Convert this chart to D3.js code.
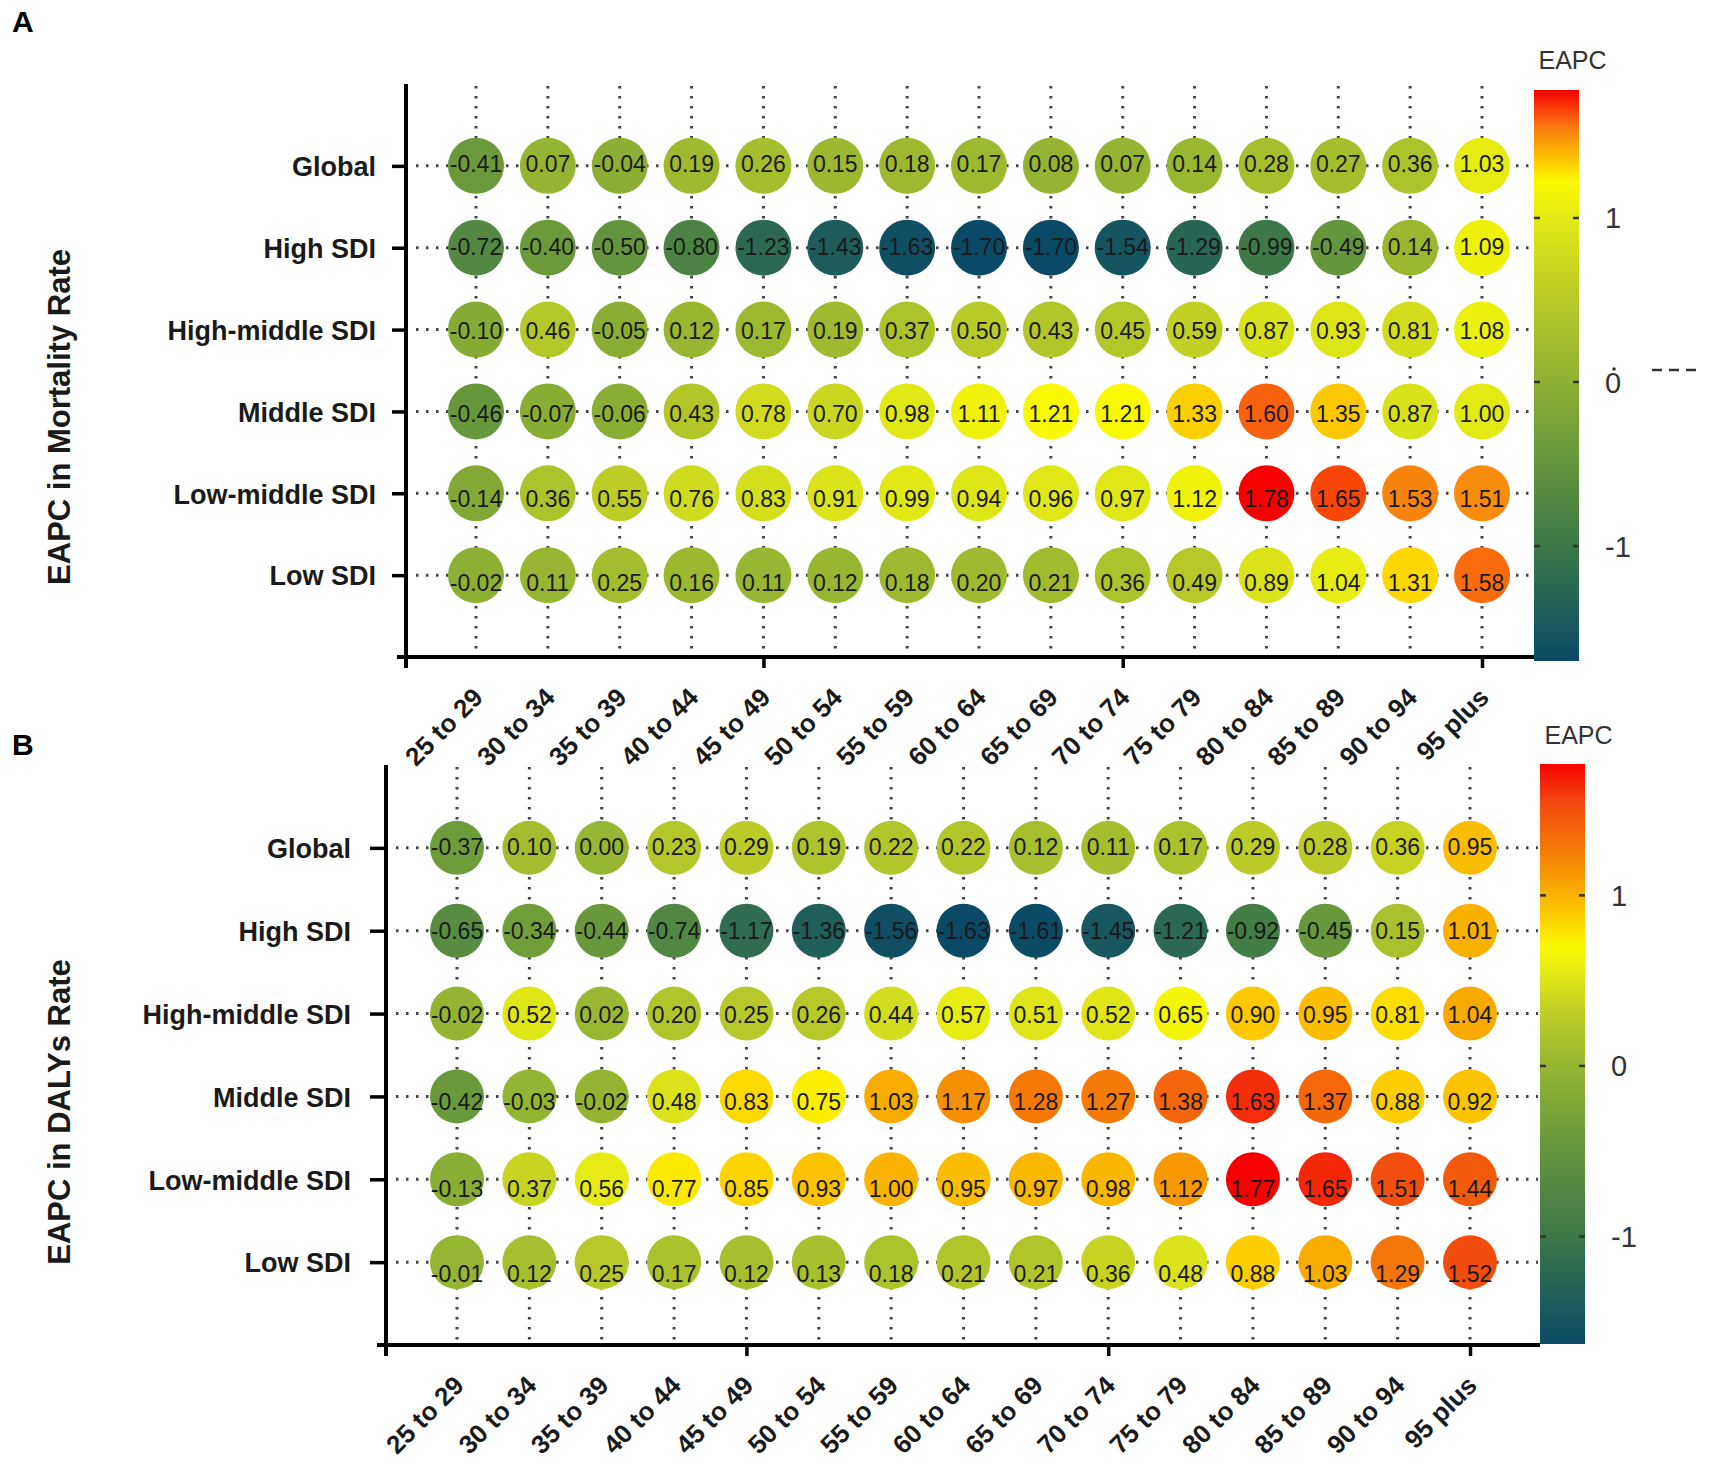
<!DOCTYPE html>
<html>
<head>
<meta charset="utf-8">
<script src="https://cdn.jsdelivr.net/npm/d3@7"></script>
<style>
  body { margin: 0; background: #fff; }
  text { font-family: "Liberation Sans", Arial, sans-serif; }
</style>
</head>
<body>
<svg id="chart"></svg>
<script>
// age groups (x) and SDI regions (y)
var ageGroups = ["25 to 29", "30 to 34", "35 to 39", "40 to 44", "45 to 49", "50 to 54", "55 to 59",
  "60 to 64", "65 to 69", "70 to 74", "75 to 79", "80 to 84", "85 to 89", "90 to 94", "95 plus"];
var regions = ["Global", "High SDI", "High-middle SDI", "Middle SDI", "Low-middle SDI", "Low SDI"];

// panel A: EAPC in mortality rate, one row per region
var mortalityEAPC = [
  [-0.41, 0.07, -0.04, 0.19, 0.26, 0.15, 0.18, 0.17, 0.08, 0.07, 0.14, 0.28, 0.27, 0.36, 1.03],
  [-0.72, -0.40, -0.50, -0.80, -1.23, -1.43, -1.63, -1.70, -1.70, -1.54, -1.29, -0.99, -0.49, 0.14, 1.09],
  [-0.10, 0.46, -0.05, 0.12, 0.17, 0.19, 0.37, 0.50, 0.43, 0.45, 0.59, 0.87, 0.93, 0.81, 1.08],
  [-0.46, -0.07, -0.06, 0.43, 0.78, 0.70, 0.98, 1.11, 1.21, 1.21, 1.33, 1.60, 1.35, 0.87, 1.00],
  [-0.14, 0.36, 0.55, 0.76, 0.83, 0.91, 0.99, 0.94, 0.96, 0.97, 1.12, 1.78, 1.65, 1.53, 1.51],
  [-0.02, 0.11, 0.25, 0.16, 0.11, 0.12, 0.18, 0.20, 0.21, 0.36, 0.49, 0.89, 1.04, 1.31, 1.58]
];

// panel B: EAPC in DALYs rate
var dalysEAPC = [
  [-0.37, 0.10, 0.00, 0.23, 0.29, 0.19, 0.22, 0.22, 0.12, 0.11, 0.17, 0.29, 0.28, 0.36, 0.95],
  [-0.65, -0.34, -0.44, -0.74, -1.17, -1.36, -1.56, -1.63, -1.61, -1.45, -1.21, -0.92, -0.45, 0.15, 1.01],
  [-0.02, 0.52, 0.02, 0.20, 0.25, 0.26, 0.44, 0.57, 0.51, 0.52, 0.65, 0.90, 0.95, 0.81, 1.04],
  [-0.42, -0.03, -0.02, 0.48, 0.83, 0.75, 1.03, 1.17, 1.28, 1.27, 1.38, 1.63, 1.37, 0.88, 0.92],
  [-0.13, 0.37, 0.56, 0.77, 0.85, 0.93, 1.00, 0.95, 0.97, 0.98, 1.12, 1.77, 1.65, 1.51, 1.44],
  [-0.01, 0.12, 0.25, 0.17, 0.12, 0.13, 0.18, 0.21, 0.21, 0.36, 0.48, 0.88, 1.03, 1.29, 1.52]
];

var legendTicks = [-1, 0, 1];
var majorTicks = ["45 to 49", "70 to 74", "95 plus"];

// colour ramps (value, colour)
var rampA = [[-1.70, "#0a4a66"], [-1.0, "#3c7848"], [-0.4, "#6c9a3b"], [0, "#8fb033"], [0.5, "#b8ca28"],
  [1.0, "#e2ea14"], [1.22, "#fcfa00"], [1.36, "#fcc400"], [1.55, "#f87c10"], [1.78, "#f80000"]];
var rampB = [[-1.63, "#0a4a66"], [-1.0, "#3c7848"], [-0.4, "#6c9a3b"], [0, "#97b632"], [0.3, "#bccc28"],
  [0.55, "#e4ea14"], [0.70, "#fcfa00"], [0.90, "#fcc800"], [1.05, "#f8a800"], [1.30, "#f57408"],
  [1.55, "#f24810"], [1.77, "#f80000"]];

var svg = d3.select("#chart").attr("width", 1713).attr("height", 1464);

function panel(p) {
  var g = svg.append("g");
  var x = d3.scalePoint().domain(ageGroups).range([p.x0, p.x1]);
  var y = d3.scalePoint().domain(regions).range([p.top, p.bottom]).padding(1);
  var color = d3.scaleLinear()
      .domain(p.ramp.map(function(d) { return d[0]; }))
      .range(p.ramp.map(function(d) { return d[1]; }))
      .clamp(true);

  // dotted guide lines
  g.append("g").selectAll("line").data(ageGroups).join("line")
      .attr("x1", function(d) { return x(d); }).attr("x2", function(d) { return x(d); })
      .attr("y1", p.top + 2).attr("y2", p.bottom)
      .attr("stroke", "#444").attr("stroke-width", 3).attr("stroke-dasharray", "2.5 7.5");
  g.append("g").selectAll("line").data(regions).join("line")
      .attr("x1", p.axisX + 10).attr("x2", p.barX - 2)
      .attr("y1", function(d) { return y(d); }).attr("y2", function(d) { return y(d); })
      .attr("stroke", "#444").attr("stroke-width", 3).attr("stroke-dasharray", "2.5 7.5");

  // bubbles
  var cells = [];
  p.values.forEach(function(row, i) {
    row.forEach(function(v, j) { cells.push({ region: regions[i], age: ageGroups[j], v: v, i: i }); });
  });
  g.append("g").selectAll("circle").data(cells).join("circle")
      .attr("cx", function(d) { return x(d.age); })
      .attr("cy", function(d) { return y(d.region); })
      .attr("r", p.r)
      .attr("fill", function(d) { return color(d.v); });
  g.append("g").selectAll("text").data(cells).join("text")
      .attr("x", function(d) { return x(d.age); })
      .attr("y", function(d) { return y(d.region) + p.nudge[d.i]; })
      .attr("dy", "0.36em")
      .attr("text-anchor", "middle")
      .style("font-size", "23px")
      .attr("fill", "#1a1a1a")
      .text(function(d) { return d.v.toFixed(2); });

  // axes
  var yAxis = g.append("g").attr("transform", "translate(" + p.axisX + ",0)")
      .call(d3.axisLeft(y).tickSize(p.tickLen).tickPadding(p.tickPad));
  yAxis.select(".domain").remove();
  yAxis.selectAll("line").attr("stroke", "#000").attr("stroke-width", 3.5);
  yAxis.selectAll("text").style("font-size", "27px").style("font-weight", "bold")
      .attr("fill", "#1a1a1a").attr("dy", "0.36em");

  var xMajor = g.append("g").attr("transform", "translate(0," + p.bottom + ")")
      .call(d3.axisBottom(x).tickValues(majorTicks).tickSize(11).tickFormat(""));
  xMajor.select(".domain").remove();
  xMajor.selectAll("line").attr("stroke", "#000").attr("stroke-width", 3.5);

  var xLabels = g.append("g").attr("transform", "translate(0," + p.bottom + ")")
      .call(d3.axisBottom(x).tickSize(0));
  xLabels.select(".domain").remove();
  xLabels.selectAll("text")
      .attr("x", 0).attr("y", 0).attr("dy", 0)
      .attr("transform", "translate(8,42) rotate(-45)")
      .attr("text-anchor", "end")
      .style("font-size", "26px").style("font-weight", "bold")
      .attr("fill", "#1a1a1a");

  g.append("line").attr("x1", p.axisX).attr("x2", p.axisX)
      .attr("y1", p.top).attr("y2", p.bottom + 11)
      .attr("stroke", "#000").attr("stroke-width", 4);
  g.append("line").attr("x1", p.axisX - 9).attr("x2", p.barX)
      .attr("y1", p.bottom).attr("y2", p.bottom)
      .attr("stroke", "#000").attr("stroke-width", 4);

  // axis title and panel letter
  g.append("text")
      .attr("transform", "translate(70," + p.titleY + ") rotate(-90)")
      .attr("text-anchor", "middle")
      .style("font-size", "31px").style("font-weight", "bold")
      .attr("fill", "#1a1a1a")
      .text(p.title);
  g.append("text").attr("x", 12).attr("y", p.letterY)
      .style("font-size", "30px").style("font-weight", "bold")
      .text(p.letter);

  // colour bar
  var vmin = p.ramp[0][0], vmax = p.ramp[p.ramp.length - 1][0];
  var grad = svg.append("defs").append("linearGradient").attr("id", "grad" + p.letter)
      .attr("x1", 0).attr("y1", 1).attr("x2", 0).attr("y2", 0);
  grad.selectAll("stop").data(p.ramp).join("stop")
      .attr("offset", function(d) { return (d[0] - vmin) / (vmax - vmin); })
      .attr("stop-color", function(d) { return d[1]; });
  var cb = d3.scaleLinear().domain([vmin, vmax]).range([p.barBottom, p.barTop]);
  g.append("rect").attr("x", p.barX).attr("y", p.barTop)
      .attr("width", p.barW).attr("height", p.barBottom - p.barTop)
      .attr("fill", "url(#grad" + p.letter + ")");
  var tk = g.append("g").selectAll("g").data(legendTicks).join("g")
      .attr("transform", function(d) { return "translate(0," + cb(d) + ")"; });
  tk.append("line").attr("x1", p.barX).attr("x2", p.barX + 6)
      .attr("stroke", "#333").attr("stroke-width", 2.5);
  tk.append("line").attr("x1", p.barX + p.barW - 6).attr("x2", p.barX + p.barW)
      .attr("stroke", "#333").attr("stroke-width", 2.5);
  tk.append("text").attr("x", p.barX + p.barW + 26).attr("dy", "0.36em")
      .style("font-size", "29px").attr("fill", "#333")
      .text(function(d) { return d; });
  g.append("text").attr("x", p.barX + p.barW / 2 + 16).attr("y", p.eapcY)
      .attr("text-anchor", "middle")
      .style("font-size", "25px").attr("fill", "#333")
      .text("EAPC");
}

panel({
  letter: "A", letterY: 32, title: "EAPC in Mortality Rate", titleY: 417,
  values: mortalityEAPC, ramp: rampA,
  axisX: 406, top: 84, bottom: 657, x0: 476, x1: 1482,
  tickLen: 14, tickPad: 16, r: 28, nudge: [-2, -1, 1, 2, 5, 8],
  barX: 1534, barW: 45, barTop: 90, barBottom: 661, eapcY: 69
});

panel({
  letter: "B", letterY: 755, title: "EAPC in DALYs Rate", titleY: 1112,
  values: dalysEAPC, ramp: rampB,
  axisX: 386, top: 765, bottom: 1345, x0: 457, x1: 1470,
  tickLen: 16, tickPad: 19, r: 27, nudge: [-1, 0, 1, 5, 9, 12],
  barX: 1540, barW: 45, barTop: 764, barBottom: 1344, eapcY: 744
});

// stray marks beside the first colour bar
svg.append("circle").attr("cx", 1614).attr("cy", 369).attr("r", 1.8).attr("fill", "#333");
svg.append("line").attr("x1", 1652).attr("x2", 1698).attr("y1", 370).attr("y2", 370)
    .attr("stroke", "#333").attr("stroke-width", 2.5).attr("stroke-dasharray", "10 7");
</script>
</body>
</html>
